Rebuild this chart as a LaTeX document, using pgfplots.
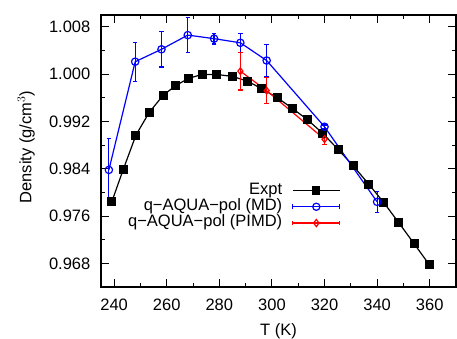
\documentclass[border=0pt]{standalone}
\usepackage{pgfplots}
\pgfplotsset{compat=1.18}
\usepackage{fontspec}
\setmainfont{Liberation Sans}
\definecolor{myblue}{RGB}{0,0,255}
\definecolor{myred}{RGB}{255,0,0}
\newcommand{\ff}{\fontsize{16.5bp}{19bp}\selectfont}
\pgfplotsset{
 mylegend/.style={legend image code/.code={
   \draw[##1, mark=none] (0bp,0bp) -- (47bp,0bp);
   \draw[##1, mark size=3.5bp] plot coordinates {(23.5bp,0bp)};
 }},
 myerrlegend/.style={legend image code/.code={
   \draw[##1, mark=none] (0bp,0bp) -- (47bp,0bp);
   \draw[##1, mark=none] (0bp,-2.4bp) -- (0bp,2.4bp) (47bp,-2.4bp) -- (47bp,2.4bp);
   \draw[##1, mark size=3.6bp] plot coordinates {(23.5bp,0bp)};
 }},
}
\begin{document}
\ff
\begin{tikzpicture}[font=\ff]
\begin{axis}[
  name=ax,
  font=\ff,
  scale only axis,
  width=355bp, height=272bp,
  xmin=235, xmax=370,
  ymin=0.964, ymax=1.010,
  xtick={240,260,...,360},
  ytick={0.968,0.976,0.984,0.992,1.000,1.008},
  minor x tick num=1,
  minor y tick num=1,
  scaled y ticks=false,
  /pgf/number format/assume math mode=true,
  yticklabel style={font=\ff, xshift=-5bp, /pgf/number format/.cd,fixed,fixed zerofill,precision=3},
  xticklabel style={font=\ff, yshift=-6bp},
  major tick length=8bp,
  minor tick length=4.5bp,
  tick style={black, line width=0.9bp},
  axis line style={line width=1.5bp},
  xlabel={T (K)},
  ylabel={Density (g/cm$^3$)},
  x label style={font=\ff, at={(axis description cs:0.5,-0.162)}, anchor=center},
  y label style={font=\ff, at={(axis description cs:-0.211,0.515)}, anchor=center},
  legend style={font=\ff, draw=none, fill=none, at={(rel axis cs:0.675,0.295)}, anchor=east,
    row sep=0bp, column sep=10bp, inner sep=0bp,
    nodes={inner sep=0bp, text height=12bp, text depth=4.3bp}},
  legend plot pos=right,
  legend cell align=right,
  error bars/y dir=both,
  error bars/y explicit,
  error bars/error bar style={line width=1.2bp},
  error bars/error mark options={rotate=90, mark size=2.2bp, line width=1.2bp},
]
\addplot[black, line width=1.2bp, mark=square*, mark size=3.9bp, mylegend,
  error bars/y dir=none] coordinates {
(239.1,0.9784) (243.4,0.9838) (248.3,0.9897) (253.3,0.9935) (258.6,0.9964)
(263.5,0.9981) (268.4,0.9993) (273.5,0.99995) (279.0,0.99995) (285.1,0.9996)
(290.8,0.9988) (296.2,0.9975) (302.1,0.9960) (307.8,0.9942) (313.5,0.9923)
(319.3,0.9900) (325.3,0.9872) (330.9,0.9845) (336.8,0.9814) (342.5,0.9783)
(348.2,0.9749) (354.1,0.9713) (359.8,0.9678)
};
\addlegendentry{Expt}
\addplot[myblue, line width=1.2bp, mark=o, mark size=3.7bp, mark options={line width=1.2bp}, myerrlegend] coordinates {
(238,0.9838) +- (0,0.0053)
(248,1.0021) +- (0,0.0033)
(258,1.0042) +- (0,0.0030)
(268,1.0066) +- (0,0.0030)
(278,1.0060) +- (0,0.0009)
(288,1.0053) +- (0,0.0016)
(298,1.0023) +- (0,0.0027)
(320,0.9911) +- (0,0.0003)
(340,0.9784) +- (0,0.0018)
};
\addlegendentry{q−AQUA−pol (MD)}
\addplot[myred, line width=1.2bp, mark=diamond, mark size=3.4bp, mark options={line width=1.2bp}, myerrlegend] coordinates {
(288,1.0005) +- (0,0.0032)
(298,0.9972) +- (0,0.0022)
(320,0.9890) +- (0,0.0009)
};
\addlegendentry{q−AQUA−pol (PIMD)}
\end{axis}
\pgfresetboundingbox
\path[use as bounding box] ([xshift=-101bp,yshift=-52bp]ax.south west) rectangle ([xshift=1bp,yshift=15bp]ax.north east);
\end{tikzpicture}
\end{document}
